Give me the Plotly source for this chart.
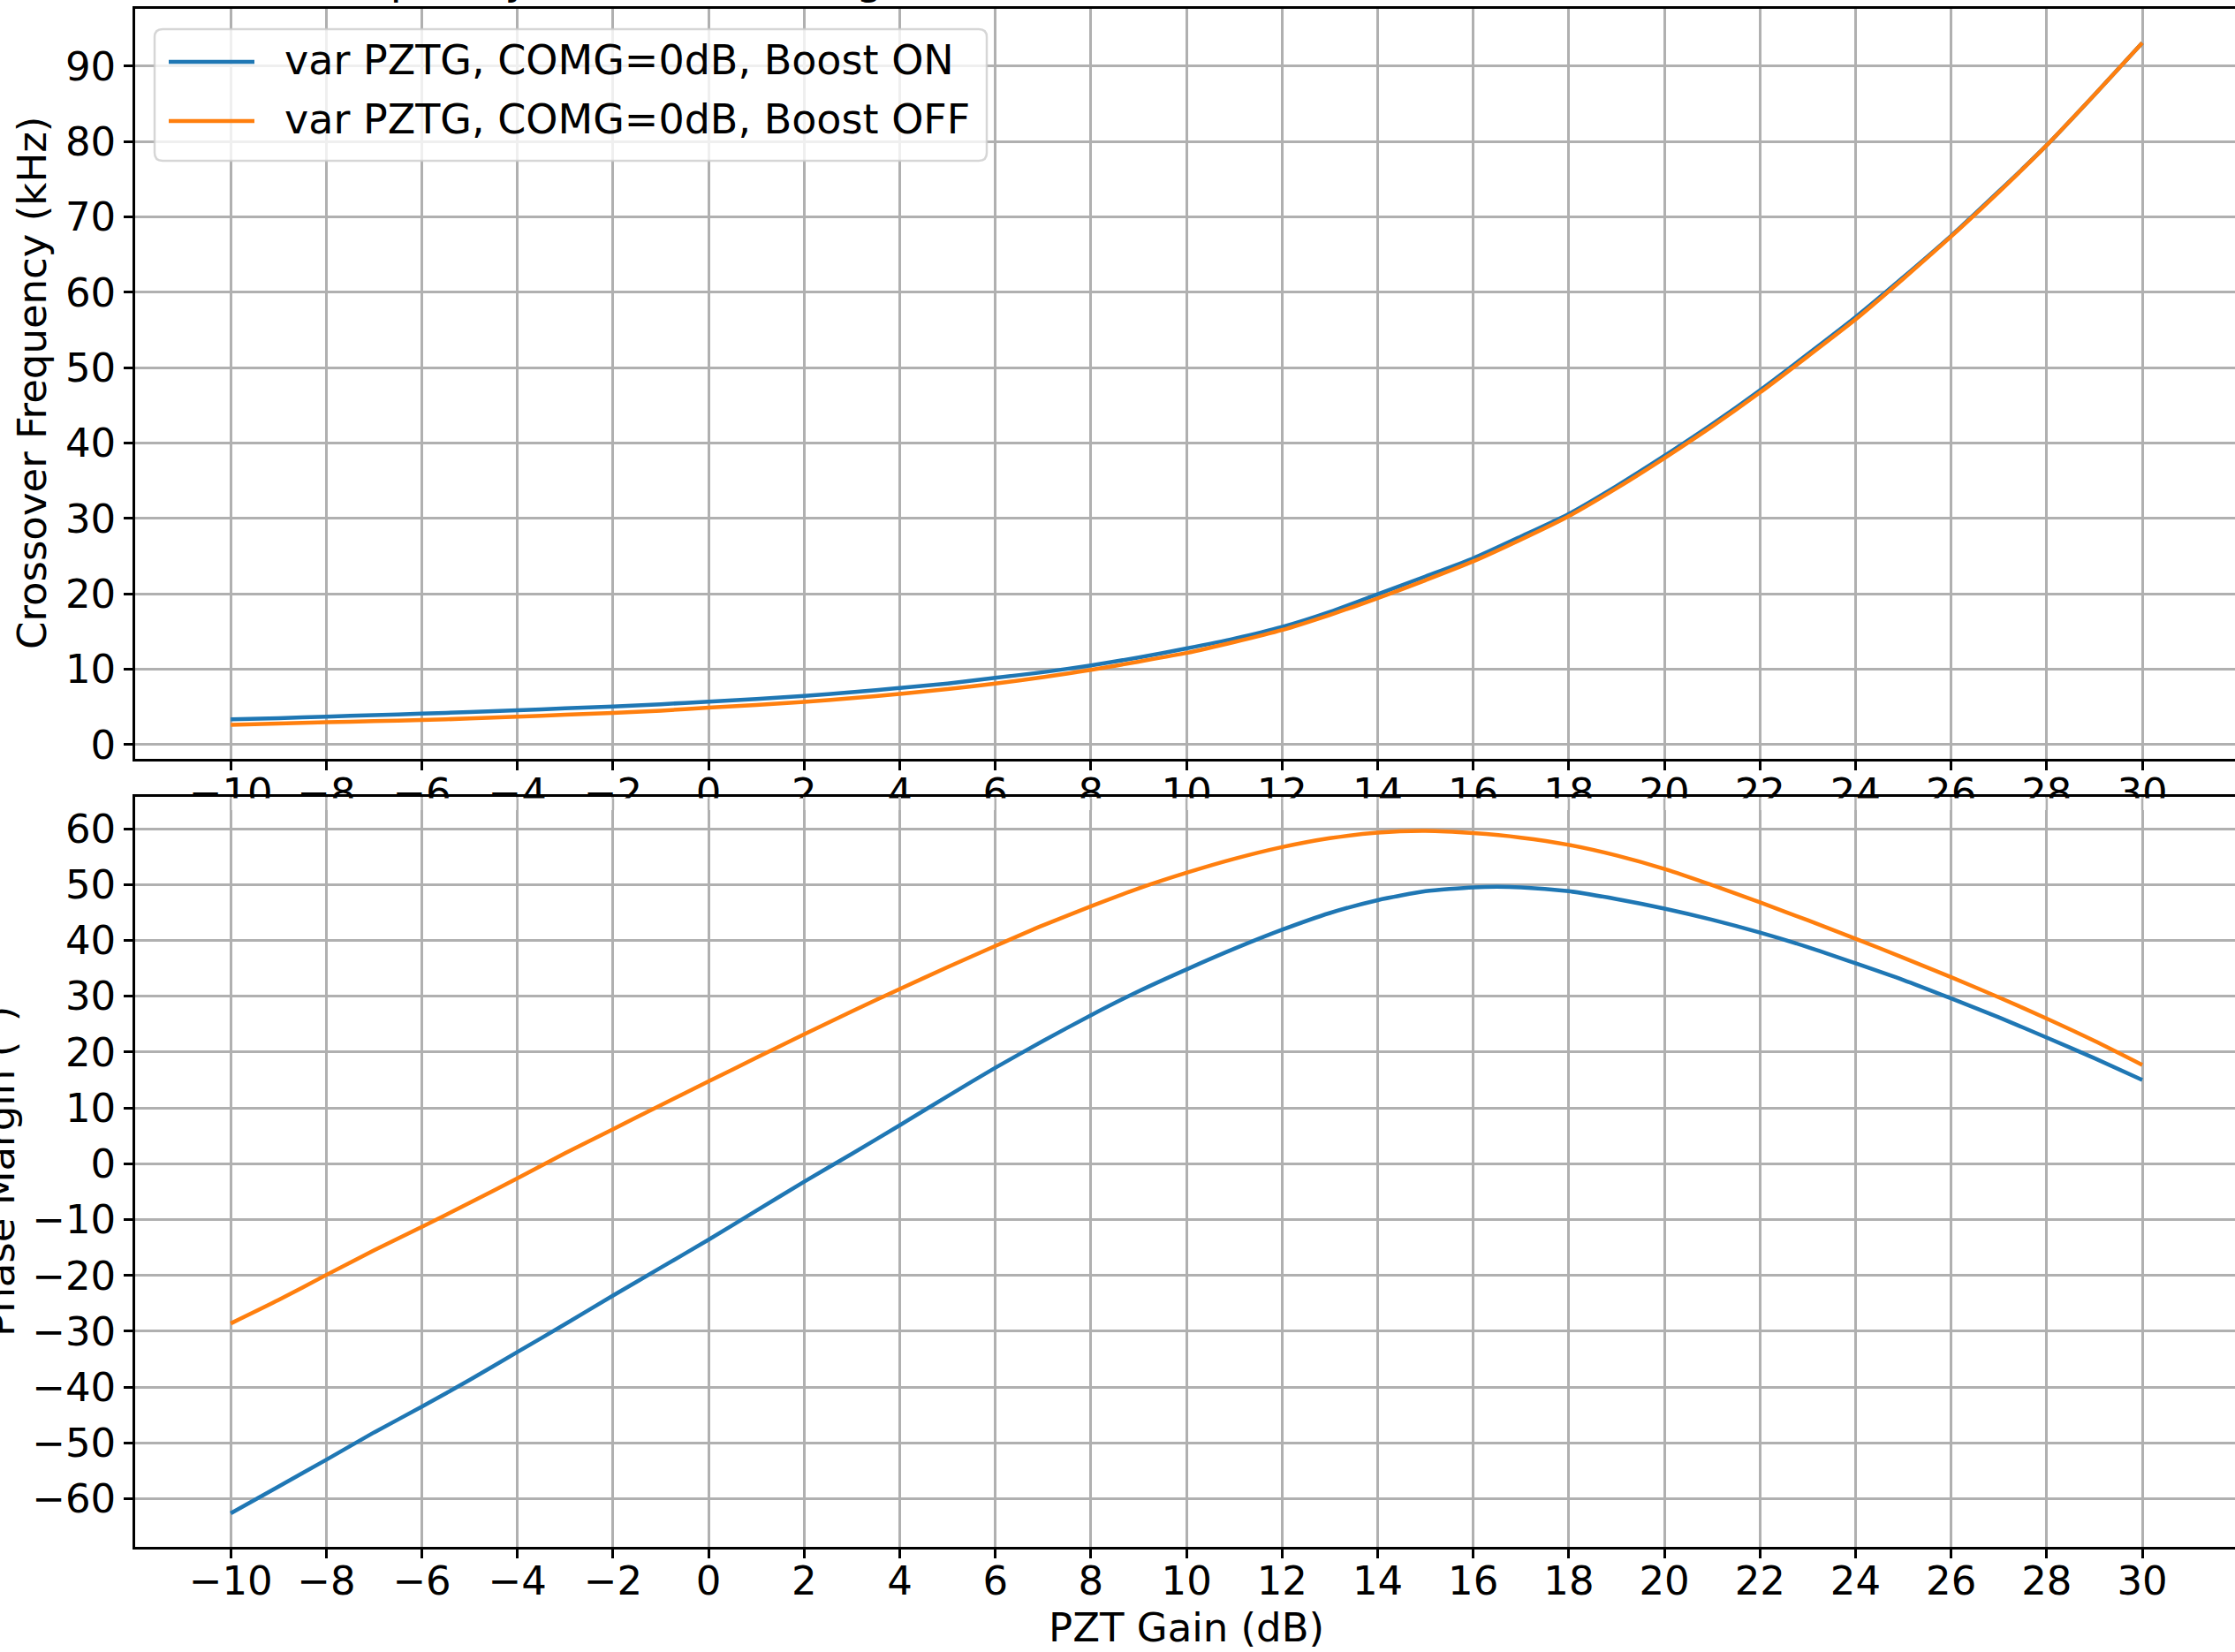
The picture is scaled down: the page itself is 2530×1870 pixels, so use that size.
import plotly.graph_objects as go

# ---------------- data ----------------
pzt_gain = [-10, -9, -8, -7, -6, -5, -4, -3, -2, -1, 0, 1, 2, 3, 4, 5, 6, 7, 8, 9, 10,
            11, 12, 13, 14, 15, 16, 17, 18, 19, 20, 21, 22, 23, 24, 25, 26, 27, 28, 29, 30]

fc_boost_on = [3.33, 3.5, 3.7, 3.9, 4.1, 4.3, 4.55, 4.8, 5.05, 5.35, 5.7, 6.05, 6.45, 6.95,
               7.5, 8.1, 8.85, 9.6, 10.5, 11.55, 12.75, 14.05, 15.6, 17.6, 19.95, 22.3,
               24.7, 27.6, 30.6, 34.3, 38.3, 42.5, 47.0, 51.8, 56.7, 62.0, 67.5, 73.4,
               79.5, 86.2, 93.1]
fc_boost_off = [2.62, 2.78, 2.95, 3.1, 3.25, 3.45, 3.7, 3.95, 4.18, 4.5, 4.9, 5.25, 5.67,
                6.15, 6.72, 7.35, 8.09, 8.95, 9.9, 11.0, 12.15, 13.6, 15.2, 17.2, 19.4,
                21.8, 24.3, 27.2, 30.3, 34.0, 38.0, 42.2, 46.7, 51.5, 56.4, 61.8, 67.4,
                73.3, 79.5, 86.2, 93.1]

pm_boost_on = [-62.6, -57.8, -53.0, -48.1, -43.5, -38.7, -33.7, -28.7, -23.6, -18.6,
               -13.6, -8.4, -3.2, 1.8, 6.9, 12.1, 17.2, 22.0, 26.6, 30.9, 34.8, 38.5,
               41.9, 44.9, 47.2, 48.8, 49.5, 49.5, 48.8, 47.4, 45.7, 43.7, 41.4, 38.8,
               35.9, 32.9, 29.6, 26.2, 22.6, 18.9, 15.0]
pm_boost_off = [-28.6, -24.4, -19.9, -15.5, -11.3, -7.0, -2.6, 1.9, 6.2, 10.5, 14.75,
                19.0, 23.2, 27.3, 31.3, 35.2, 39.0, 42.7, 46.1, 49.3, 52.1, 54.6, 56.7,
                58.3, 59.3, 59.6, 59.2, 58.4, 57.1, 55.2, 52.8, 49.9, 46.8, 43.6, 40.3,
                36.9, 33.4, 29.8, 26.0, 22.0, 17.7]

series_names = ["var PZTG, COMG=0dB, Boost ON", "var PZTG, COMG=0dB, Boost OFF"]
series_colors = ["#1f77b4", "#ff7f0e"]

x_ticks = list(range(-10, 31, 2))
fc_ticks = list(range(0, 91, 10))
pm_ticks = list(range(-60, 61, 10))

title_text = "Crossover Frequency and Phase Margin vs PZT Gain"
x_title = "PZT Gain (dB)"
fc_title = "Crossover Frequency (kHz)"
pm_title = "Phase Margin (°)"

# ---------------- layout geometry (pixels) ----------------
W, H = 2530, 1870
ML, MR, MT, MB = 153, 0, 10, 119
PW, PH = W - ML - MR, H - MT - MB


def pxx(px):
    return (px - ML) / PW


def pxy(py):
    return (H - MB - py) / PH


FONT = "DejaVu Sans"
FS = 45
GRID = "#b0b0b0"
LW = 4.5

fig = go.Figure()
for xa, ya, ys in (("x", "y", (fc_boost_on, fc_boost_off)),
                   ("x2", "y2", (pm_boost_on, pm_boost_off))):
    for vals, name, col in zip(ys, series_names, series_colors):
        fig.add_trace(go.Scatter(x=pzt_gain, y=vals, mode="lines", name=name,
                                 line=dict(color=col, width=LW, shape="spline",
                                           smoothing=0.6),
                                 xaxis=xa, yaxis=ya, showlegend=False))

axis_common = dict(showline=True, linecolor="black", linewidth=2.5, ticks="outside",
                   ticklen=10, tickwidth=2.5, tickcolor="black", showgrid=True,
                   gridcolor=GRID, gridwidth=2.5, zeroline=False, automargin=False,
                   tickfont=dict(family=FONT, size=FS, color="black"))

fig.update_layout(
    width=W, height=H,
    margin=dict(l=ML, r=MR, t=MT, b=MB, autoexpand=False),
    paper_bgcolor="white", plot_bgcolor="white",
    font=dict(family=FONT, size=FS, color="black"),
    xaxis=dict(axis_common, domain=[0, 1], range=[-12.0, 31.94], tickmode="array",
               tickvals=x_ticks, anchor="y", mirror=True, ticklabelstandoff=-13),
    yaxis=dict(axis_common, domain=[pxy(859), 1], range=[-1.9, 97.6], tickmode="array",
               tickvals=fc_ticks, anchor="x"),
    xaxis2=dict(axis_common, domain=[0, 1], range=[-12.0, 31.94], tickmode="array",
                tickvals=x_ticks, anchor="y2", mirror=True, ticklabelstandoff=-13),
    yaxis2=dict(axis_common, domain=[0, pxy(902)], range=[-68.6, 65.7], tickmode="array",
                tickvals=pm_ticks, anchor="x2"),
)

shapes = []
annotations = []

# lower axes hides the lower half of the upper axes' tick labels
band_top, band_bot = 903.6, 917
shapes.append(dict(type="rect", xref="paper", yref="paper", x0=0, x1=1,
                   y0=pxy(band_bot), y1=pxy(band_top), fillcolor="white",
                   line=dict(width=0), layer="above"))
for t in x_ticks:
    shapes.append(dict(type="line", xref="x2", yref="paper", x0=t, x1=t,
                       y0=pxy(band_bot), y1=pxy(band_top),
                       line=dict(color=GRID, width=2.5), layer="above"))

# legend (matplotlib style frame)
lx0, lx1, ly0, ly1, r = 175, 1117, 33, 182, 9
path = (f"M {pxx(lx0 + r)},{pxy(ly0)} L {pxx(lx1 - r)},{pxy(ly0)} "
        f"Q {pxx(lx1)},{pxy(ly0)} {pxx(lx1)},{pxy(ly0 + r)} "
        f"L {pxx(lx1)},{pxy(ly1 - r)} Q {pxx(lx1)},{pxy(ly1)} {pxx(lx1 - r)},{pxy(ly1)} "
        f"L {pxx(lx0 + r)},{pxy(ly1)} Q {pxx(lx0)},{pxy(ly1)} {pxx(lx0)},{pxy(ly1 - r)} "
        f"L {pxx(lx0)},{pxy(ly0 + r)} Q {pxx(lx0)},{pxy(ly0)} {pxx(lx0 + r)},{pxy(ly0)} Z")
shapes.append(dict(type="path", xref="paper", yref="paper", path=path,
                   fillcolor="rgba(255,255,255,0.8)",
                   line=dict(color="rgba(204,204,204,0.8)", width=2.5), layer="above"))
for i, (name, col) in enumerate(zip(series_names, series_colors)):
    yy = 70 + i * 67
    shapes.append(dict(type="line", xref="paper", yref="paper", x0=pxx(191), x1=pxx(288),
                       y0=pxy(yy), y1=pxy(yy), line=dict(color=col, width=LW),
                       layer="above"))
    annotations.append(dict(text=name, xref="paper", yref="paper", x=pxx(320),
                            y=pxy(yy - 2), xanchor="left", yanchor="middle",
                            showarrow=False,
                            font=dict(family=FONT, size=46, color="black")))

# axis titles
annotations.append(dict(text=x_title, xref="paper", yref="paper", x=pxx(1343),
                        y=pxy(1842), xanchor="center", yanchor="middle", showarrow=False,
                        font=dict(family=FONT, size=FS, color="black")))
annotations.append(dict(text=fc_title, xref="paper", yref="paper", x=pxx(37),
                        y=pxy(434), xanchor="center", yanchor="middle", showarrow=False,
                        textangle=-90, font=dict(family=FONT, size=FS, color="black")))
annotations.append(dict(text=pm_title, xref="paper", yref="paper", x=pxx(0),
                        y=pxy(1326), xanchor="center", yanchor="middle", showarrow=False,
                        textangle=-90, font=dict(family=FONT, size=FS, color="black")))

# title (mostly above the visible page)
annotations.append(dict(text=title_text, xref="paper", yref="paper", x=pxx(96),
                        y=pxy(6), xanchor="left", yanchor="bottom", showarrow=False,
                        font=dict(family=FONT, size=48, color="black")))

fig.update_layout(shapes=shapes, annotations=annotations)
fig.write_html("out.html")
